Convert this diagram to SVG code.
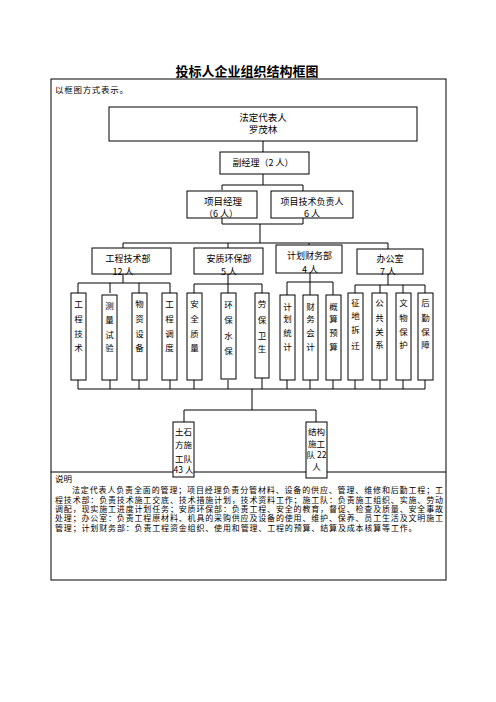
<svg xmlns="http://www.w3.org/2000/svg" width="496" height="702" viewBox="0 0 496 702">
<style>
text{font-family:"Noto Sans CJK SC","Noto Sans",sans-serif;fill:#000;}
.t9{font-size:9px;text-anchor:middle;}
.t95{font-size:9.5px;text-anchor:middle;font-family:"Liberation Sans","Noto Sans CJK SC",sans-serif;}
.v{font-size:8.5px;text-anchor:middle;}
.d{font-size:8px;font-family:"Liberation Sans","Noto Sans CJK SC",sans-serif;}
.box{fill:#fff;stroke:#000;stroke-width:1;}
.ln{fill:none;stroke:#000;stroke-width:1;}
</style>
<rect width="496" height="702" fill="#fff"/>
<text x="247" y="76" style="font-size:13px;font-weight:bold;text-anchor:middle">投标人企业组织结构框图</text>
<g id="frame">
<rect x="51" y="79" width="395" height="501" class="ln"/>
<line x1="51" y1="472" x2="446" y2="472" class="ln"/>
<text x="55" y="93" style="font-size:8.5px" textLength="73" lengthAdjust="spacing">以框图方式表示。</text>
</g>
<g id="connectors" class="ln">
<path d="M263,141V152M263,174V185M222,190V185H303V191M222,218V224H303V218M260,224V243"/>
<path d="M123,248V243H388V249M228,243V248M309,243V245"/>
<path d="M123,274V283M78,293V283H170V293M110,283V293M139,283V293"/>
<path d="M228,274V284M194,293V284H262V293M228,284V293"/>
<path d="M310,273V282M287,295V282H333V295M310,282V295"/>
<path d="M388,274V285M355,293V285H425V293M380,285V293M403,285V293"/>
<path d="M78,380V389M110,380V389M139,380V389M170,380V389M194,380V389M228,380V389M262,378V389M287,380V389M310,380V389M333,380V389M355,380V389M380,380V389M403,380V389M425,380V389M78,389H425"/>
<path d="M252,389V410M184,422V410H316V422"/>
</g>
<g id="n-legal"><rect x="109" y="107" width="308" height="34" class="box"/><text x="263" y="120.5" class="t95">法定代表人</text><text x="263" y="132.5" class="t95">罗茂林</text></g>
<g id="n-deputy"><rect x="220" y="152" width="89" height="22" class="box"/><text x="263" y="165.5" class="t9">副经理（2 人）</text></g>
<g id="n-pm"><rect x="187" y="191" width="70" height="27" class="box"/><text x="223" y="204.5" class="t95">项目经理</text><text x="221" y="217" class="t9">（6 人）</text></g>
<g id="n-tech"><rect x="271" y="191" width="82" height="27" class="box"/><text x="312" y="204.5" class="t9">项目技术负责人</text><text x="312" y="217" class="t9">6 人</text></g>
<g id="n-d1"><rect x="92" y="248" width="79" height="26" class="box"/><text x="128" y="261.5" class="t9">工程技术部</text><text x="123" y="275" class="t9">12 人</text></g>
<g id="n-d2"><rect x="194" y="248" width="69" height="26" class="box"/><text x="229" y="261.5" class="t9">安质环保部</text><text x="229" y="275" class="t9">5 人</text></g>
<g id="n-d3"><rect x="276" y="245" width="66" height="28" class="box"/><text x="309.5" y="258.5" class="t9">计划财务部</text><text x="310" y="273" class="t9">4 人</text></g>
<g id="n-d4"><rect x="357" y="249" width="66" height="25" class="box"/><text x="390" y="262" class="t9">办公室</text><text x="388" y="275" class="t9">7 人</text></g>
<g id="n-s1"><rect x="71" y="293" width="15" height="87" class="box"/><text class="v"><tspan x="78.5" y="307">工</tspan><tspan x="78.5" y="322">程</tspan><tspan x="78.5" y="337">技</tspan><tspan x="78.5" y="351">术</tspan></text></g>
<g id="n-s2"><rect x="102" y="295" width="15" height="85" class="box"/><text class="v"><tspan x="109.5" y="309">测</tspan><tspan x="109.5" y="323">量</tspan><tspan x="109.5" y="338">试</tspan><tspan x="109.5" y="351">验</tspan></text></g>
<g id="n-s3"><rect x="132" y="293" width="15" height="87" class="box"/><text class="v"><tspan x="139.5" y="307">物</tspan><tspan x="139.5" y="322">资</tspan><tspan x="139.5" y="337">设</tspan><tspan x="139.5" y="351">备</tspan></text></g>
<g id="n-s4"><rect x="162" y="293" width="15" height="87" class="box"/><text class="v"><tspan x="169.5" y="307">工</tspan><tspan x="169.5" y="322">程</tspan><tspan x="169.5" y="337">调</tspan><tspan x="169.5" y="351">度</tspan></text></g>
<g id="n-s5"><rect x="187" y="293" width="15" height="87" class="box"/><text class="v"><tspan x="194.5" y="307">安</tspan><tspan x="194.5" y="322">全</tspan><tspan x="194.5" y="337">质</tspan><tspan x="194.5" y="351">量</tspan></text></g>
<g id="n-s6"><rect x="221" y="293" width="15" height="86" class="box"/><text class="v"><tspan x="228.5" y="308">环</tspan><tspan x="228.5" y="323">保</tspan><tspan x="228.5" y="339">水</tspan><tspan x="228.5" y="354">保</tspan></text></g>
<g id="n-s7"><rect x="255" y="293" width="14" height="85" class="box"/><text class="v"><tspan x="262" y="307">劳</tspan><tspan x="262" y="323">保</tspan><tspan x="262" y="339">卫</tspan><tspan x="262" y="352">生</tspan></text></g>
<g id="n-s8"><rect x="280" y="295" width="15" height="85" class="box"/><text class="v"><tspan x="287.5" y="310">计</tspan><tspan x="287.5" y="322">划</tspan><tspan x="287.5" y="336">统</tspan><tspan x="287.5" y="350">计</tspan></text></g>
<g id="n-s9"><rect x="303" y="295" width="15" height="85" class="box"/><text class="v"><tspan x="310.5" y="310">财</tspan><tspan x="310.5" y="322">务</tspan><tspan x="310.5" y="336">会</tspan><tspan x="310.5" y="350">计</tspan></text></g>
<g id="n-s10"><rect x="326" y="295" width="15" height="85" class="box"/><text class="v"><tspan x="333.5" y="310">概</tspan><tspan x="333.5" y="322">算</tspan><tspan x="333.5" y="336">预</tspan><tspan x="333.5" y="350">算</tspan></text></g>
<g id="n-s11"><rect x="348" y="293" width="15" height="87" class="box"/><text class="v"><tspan x="355.5" y="306">征</tspan><tspan x="355.5" y="319">地</tspan><tspan x="355.5" y="333">拆</tspan><tspan x="355.5" y="349">迁</tspan></text></g>
<g id="n-s12"><rect x="372" y="293" width="15" height="87" class="box"/><text class="v"><tspan x="379.5" y="306">公</tspan><tspan x="379.5" y="321">共</tspan><tspan x="379.5" y="335">关</tspan><tspan x="379.5" y="348">系</tspan></text></g>
<g id="n-s13"><rect x="396" y="293" width="15" height="87" class="box"/><text class="v"><tspan x="403.5" y="306">文</tspan><tspan x="403.5" y="321">物</tspan><tspan x="403.5" y="335">保</tspan><tspan x="403.5" y="348">护</tspan></text></g>
<g id="n-s14"><rect x="418" y="293" width="15" height="87" class="box"/><text class="v"><tspan x="425.5" y="306">后</tspan><tspan x="425.5" y="321">勤</tspan><tspan x="425.5" y="335">保</tspan><tspan x="425.5" y="348">障</tspan></text></g>
<g id="n-team1"><rect x="173" y="422" width="21" height="55" class="box"/><text class="v"><tspan x="183.5" y="435">土石</tspan><tspan x="183.5" y="448">方施</tspan><tspan x="183.5" y="462">工队</tspan><tspan x="183.5" y="473">43 人</tspan></text></g>
<g id="n-team2"><rect x="306" y="422" width="21" height="56" class="box"/><text class="v"><tspan x="316.5" y="435">结构</tspan><tspan x="316.5" y="446.5">施工</tspan><tspan x="316.5" y="458">队 22</tspan><tspan x="316.5" y="470">人</tspan></text></g>
<g id="notes">
<text x="55" y="482" style="font-size:8.5px">说明</text>
<text class="d"><tspan x="72" y="493.3" textLength="371" lengthAdjust="spacing">法定代表人负责全面的管理；项目经理负责分管材料、设备的供应、管理、维修和后勤工程；工</tspan><tspan x="55" y="502.6" textLength="388" lengthAdjust="spacing">程技术部：负责技术施工交底、技术措施计划，技术资料工作；施工队：负责施工组织、实施、劳动</tspan><tspan x="55" y="511.9" textLength="388" lengthAdjust="spacing">调配，现实施工进度计划任务；安质环保部：负责工程、安全的教育，督促、检查及质量、安全事故</tspan><tspan x="55" y="521.2" textLength="388" lengthAdjust="spacing">处理；办公室：负责工程原材料、机具的采购供应及设备的使用、维护、保养、员工生活及文明施工</tspan><tspan x="55" y="530.5" textLength="361.6" lengthAdjust="spacing">管理；计划财务部：负责工程资金组织、使用和管理、工程的预算、结算及成本核算等工作。</tspan></text>
</g>
</svg>
